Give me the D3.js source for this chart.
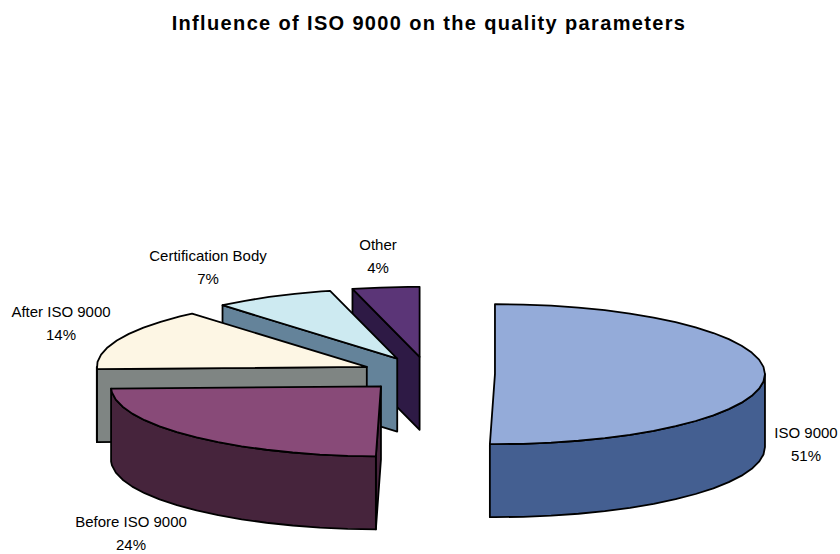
<!DOCTYPE html>
<html>
<head>
<meta charset="utf-8">
<script src="https://cdn.jsdelivr.net/npm/d3@7"></script>
<style>
    html, body { margin: 0; padding: 0; background: #fff; }
    text { font-family: "Liberation Sans", Arial, sans-serif; fill: #000; }
</style>
</head>
<body>
<div id="chart"></div>
<script>
const categories = ['ISO 9000', 'Before ISO 9000', 'After ISO 9000', 'Certification Body', 'Other'];
const shares = [50.3, 24.2, 14.3, 7.2, 4.0];
const percentLabels = ['51%', '24%', '14%', '7%', '4%'];
const topColors = ['#94abd9', '#884a78', '#fdf6e4', '#cdeaf1', '#5b3577'];
const wallColors = ['#445f91', '#46243c', '#7f8583', '#64839a', '#2e1a45'];
// [x centre, baseline of first line]
const labelSpots = [[806, 438], [131, 527], [61, 317], [208, 261], [378, 250]];

const width = 840, height = 554;
const cx = 428, cy = 374, rx = 270, ry = 70, depth = 73;
const explode = 0.248;
const arcStep = Math.PI / 30;

const svg = d3.select('#chart').append('svg')
    .attr('width', width)
    .attr('height', height)
    .style('display', 'block');

svg.append('text')
    .attr('x', 429)
    .attr('y', 30)
    .attr('text-anchor', 'middle')
    .style('font-size', '20px')
    .style('font-weight', 'bold')
    .style('letter-spacing', '1.35px')
    .text('Influence of ISO 9000 on the quality parameters');

// unit circle -> flattened screen ellipse
const xScale = d3.scaleLinear().domain([-1, 1]).range([cx - rx, cx + rx]);
const yScale = d3.scaleLinear().domain([-1, 1]).range([cy - ry, cy + ry]);

const slices = d3.pie().sort(null)(shares).map(function (d, i) {
    const mid = (d.startAngle + d.endAngle) / 2;
    return {
        start: d.startAngle,
        end: d.endAngle,
        dx: Math.sin(mid) * explode,
        dy: -Math.cos(mid) * explode,
        top: topColors[i],
        wall: wallColors[i]
    };
});

function rimPoint(s, angle, r, drop) {
    return [
        xScale(s.dx + Math.sin(angle) * r),
        yScale(s.dy - Math.cos(angle) * r) + drop
    ];
}

function arcAngles(a, b) {
    const out = d3.range(a, b, arcStep);
    out.push(b);
    return out;
}

const outline = d3.line();

function drawShape(points, fill) {
    svg.append('path')
        .attr('d', outline(points) + 'Z')
        .attr('fill', fill)
        .attr('stroke', '#000')
        .attr('stroke-width', 1.8)
        .attr('stroke-linejoin', 'round');
}

// back slices first so the front ones overlap them
slices.slice().reverse().forEach(function (s) {
    // cut face, only seen when it looks toward the viewer
    if (Math.sin(s.start) < -0.001) {
        drawShape([
            rimPoint(s, s.start, 0, 0),
            rimPoint(s, s.start, 1, 0),
            rimPoint(s, s.start, 1, depth),
            rimPoint(s, s.start, 0, depth)
        ], s.wall);
    }

    // outer wall, front half of the ellipse only
    const a = Math.max(s.start, Math.PI / 2);
    const b = Math.min(s.end, Math.PI * 1.5);
    if (a < b) {
        const angles = arcAngles(a, b);
        const upper = angles.map(function (t) { return rimPoint(s, t, 1, 0); });
        const lower = angles.map(function (t) { return rimPoint(s, t, 1, depth); }).reverse();
        drawShape(upper.concat(lower), s.wall);
    }

    // top face
    const rim = arcAngles(s.start, s.end).map(function (t) { return rimPoint(s, t, 1, 0); });
    drawShape([rimPoint(s, s.start, 0, 0)].concat(rim), s.top);
});

// labels
const labels = svg.selectAll('g.label')
    .data(categories)
    .enter().append('g')
    .attr('class', 'label')
    .attr('transform', function (d, i) {
        return 'translate(' + labelSpots[i][0] + ',' + labelSpots[i][1] + ')';
    });

labels.append('text')
    .attr('text-anchor', 'middle')
    .style('font-size', '15px')
    .text(function (d) { return d; });

labels.append('text')
    .attr('y', 23)
    .attr('text-anchor', 'middle')
    .style('font-size', '15px')
    .text(function (d, i) { return percentLabels[i]; });
</script>
</body>
</html>
